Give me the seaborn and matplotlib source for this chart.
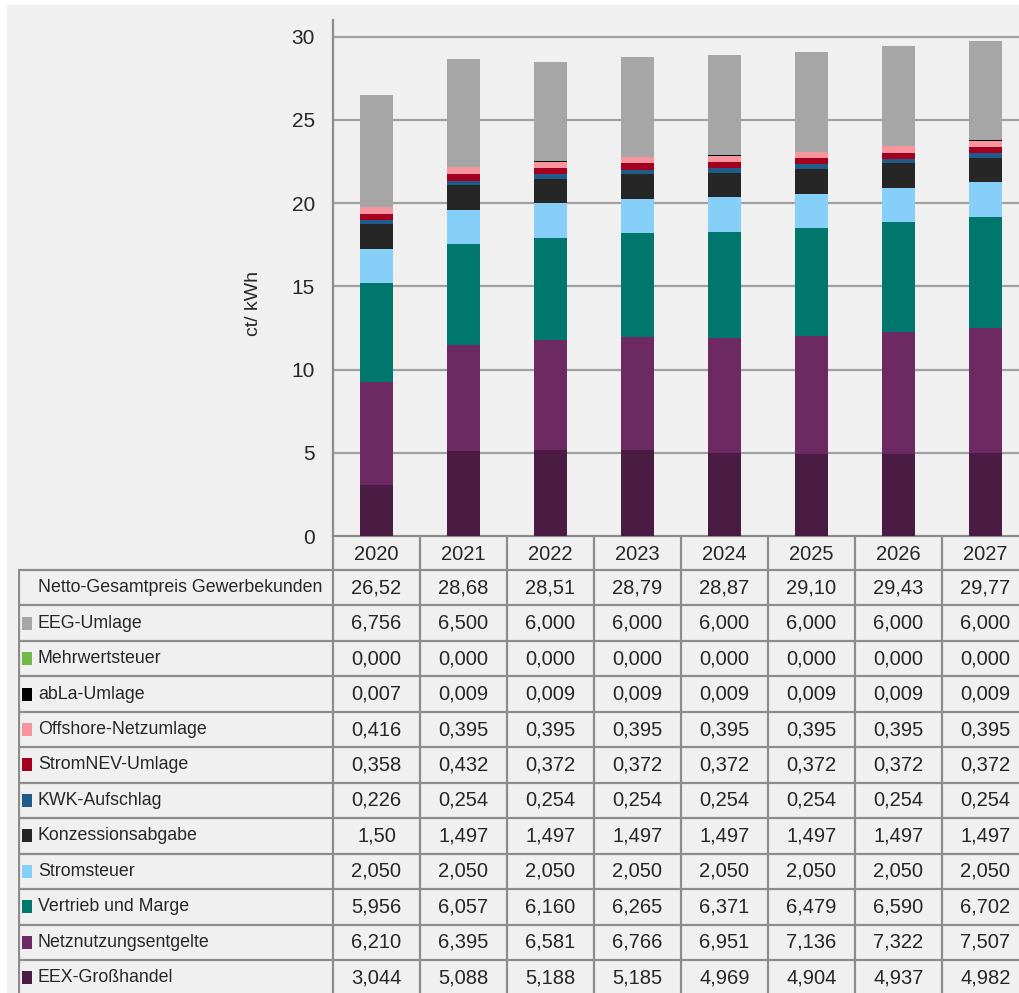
import matplotlib
matplotlib.use("Agg")
import matplotlib.pyplot as plt
from matplotlib.patches import Rectangle
import seaborn as sns
import pandas as pd
import numpy as np

# ---------------- data ----------------
years = ["2020", "2021", "2022", "2023", "2024", "2025", "2026", "2027"]
totals = [26.52, 28.68, 28.51, 28.79, 28.87, 29.10, 29.43, 29.77]
total_label = "Netto-Gesamtpreis Gewerbekunden"

eeg_umlage = [6.756, 6.500, 6.000, 6.000, 6.000, 6.000, 6.000, 6.000]
mehrwertsteuer = [0.000, 0.000, 0.000, 0.000, 0.000, 0.000, 0.000, 0.000]
abla_umlage = [0.007, 0.009, 0.009, 0.009, 0.009, 0.009, 0.009, 0.009]
offshore_netzumlage = [0.416, 0.395, 0.395, 0.395, 0.395, 0.395, 0.395, 0.395]
stromnev_umlage = [0.358, 0.432, 0.372, 0.372, 0.372, 0.372, 0.372, 0.372]
kwk_aufschlag = [0.226, 0.254, 0.254, 0.254, 0.254, 0.254, 0.254, 0.254]
konzessionsabgabe = [1.50, 1.497, 1.497, 1.497, 1.497, 1.497, 1.497, 1.497]
konzession_decimals = [2, 3, 3, 3, 3, 3, 3, 3]
stromsteuer = [2.050, 2.050, 2.050, 2.050, 2.050, 2.050, 2.050, 2.050]
vertrieb_marge = [5.956, 6.057, 6.160, 6.265, 6.371, 6.479, 6.590, 6.702]
netznutzung = [6.210, 6.395, 6.581, 6.766, 6.951, 7.136, 7.322, 7.507]
eex_grosshandel = [3.044, 5.088, 5.188, 5.185, 4.969, 4.904, 4.937, 4.982]

# order = table order (top of stack first)
components = ["EEG-Umlage", "Mehrwertsteuer", "abLa-Umlage", "Offshore-Netzumlage",
              "StromNEV-Umlage", "KWK-Aufschlag", "Konzessionsabgabe", "Stromsteuer",
              "Vertrieb und Marge", "Netznutzungsentgelte", "EEX-Großhandel"]
series = [eeg_umlage, mehrwertsteuer, abla_umlage, offshore_netzumlage, stromnev_umlage,
          kwk_aufschlag, konzessionsabgabe, stromsteuer, vertrieb_marge, netznutzung,
          eex_grosshandel]
colors = ["#a6a6a6", "#70b84a", "#000000", "#f7949e", "#a3001f", "#1f5c8a",
          "#262626", "#85cff9", "#00776d", "#6d2a62", "#4a1b43"]
y_ticks = [0, 5, 10, 15, 20, 25, 30]
y_label = "ct/ kWh"

# ---------------- style ----------------
sns.set_theme(style="white")
plt.rcParams["font.family"] = ["Liberation Sans Narrow", "Liberation Sans", "DejaVu Sans"]
BG = "#f0f0f0"
GRID = "#a0a0a0"
BORDER = "#8c8c8c"
TXT = "#262626"

W, H = 1020, 993
fig = plt.figure(figsize=(W / 100, H / 100), dpi=100, facecolor="white")
fig.patches.append(Rectangle((7 / W, 0), 1, 1 - 5 / H, transform=fig.transFigure,
                             facecolor=BG, edgecolor="none", zorder=-10))

col_px = 87.0
ax_left_px, ax_top_px, ax_bot_px = 333, 20, 536
ax = fig.add_axes([ax_left_px / W, (H - ax_bot_px) / H, 8 * col_px / W,
                   (ax_bot_px - ax_top_px) / H])
ax.set_facecolor(BG)

rows = []
for name, vals in zip(components, series):
    for i, v in enumerate(vals):
        rows.append({"idx": i, "component": name, "value": v})
df = pd.DataFrame(rows)

sns.histplot(data=df, x="idx", weights="value", hue="component", hue_order=components,
             multiple="stack", discrete=True, shrink=0.39, palette=colors,
             linewidth=0, alpha=1, legend=False, ax=ax, zorder=3)

ax.set_xlim(-0.5, 7.5)
ax.set_ylim(0, 31)
ax.set_yticks(y_ticks)
ax.set_yticklabels([str(t) for t in y_ticks], fontsize=15, color=TXT)
ax.set_xticks([])
ax.set_xlabel("")
ax.set_ylabel(y_label, fontsize=14, color=TXT)
ax.yaxis.set_label_coords(-0.102, 0.45)
ax.tick_params(axis="y", length=0, pad=13)
for t in y_ticks[1:]:
    ax.axhline(t, color=GRID, lw=1.6, zorder=1)
for s in ["top", "right"]:
    ax.spines[s].set_visible(False)
for s in ["left", "bottom"]:
    ax.spines[s].set_color(BORDER)
    ax.spines[s].set_linewidth(1.6)

# ---------------- table ----------------
tab_left_px, tab_top_px, tab_bot_px = 18, 537, 996
tx = fig.add_axes([tab_left_px / W, (H - tab_bot_px) / H,
                   (ax_left_px + 8 * col_px - tab_left_px) / W,
                   (tab_bot_px - tab_top_px) / H])
tx.set_axis_off()
x0 = -0.5 - (ax_left_px - tab_left_px) / col_px
tx.set_xlim(x0, 7.5)
tx.set_ylim(tab_bot_px - tab_top_px, 0)

head_h = 33.0
row_h = 35.45
n_rows = 1 + len(components)
y_end = tab_bot_px - tab_top_px

# horizontal lines
tx.plot([x0, 7.5], [head_h, head_h], color=BORDER, lw=1.6)
for r in range(1, n_rows + 1):
    yy = head_h + r * row_h
    tx.plot([x0, 7.5], [yy, yy], color=BORDER, lw=1.6)
# vertical lines
tx.plot([x0 + 0.01, x0 + 0.01], [head_h, y_end], color=BORDER, lw=1.6)
for i in range(9):
    tx.plot([i - 0.5, i - 0.5], [0, y_end], color=BORDER, lw=1.6)

fs_num = 14.5
fs_lab = 12.8
for i, yr in enumerate(years):
    tx.text(i, head_h / 2 + 1, yr, ha="center", va="center", fontsize=fs_num, color=TXT)

label_x = x0 + 20 / col_px
sq_x = x0 + 4 / col_px
# totals row
yc = head_h + 0.5 * row_h
tx.text(label_x, yc, total_label, ha="left", va="center", fontsize=fs_lab, color=TXT)
for i, v in enumerate(totals):
    tx.text(i, yc, f"{v:.2f}".replace(".", ","), ha="center", va="center",
            fontsize=fs_num, color=TXT)

for r, (name, vals, c) in enumerate(zip(components, series, colors)):
    yc = head_h + (r + 1.5) * row_h
    tx.add_patch(Rectangle((sq_x, yc - 6.5), 10 / col_px, 13, facecolor=c,
                           edgecolor="none"))
    tx.text(label_x, yc, name, ha="left", va="center", fontsize=fs_lab, color=TXT)
    for i, v in enumerate(vals):
        d = konzession_decimals[i] if name == "Konzessionsabgabe" else 3
        tx.text(i, yc, f"{v:.{d}f}".replace(".", ","), ha="center", va="center",
                fontsize=fs_num, color=TXT)

fig.savefig("out.png", dpi=100, facecolor="white")
